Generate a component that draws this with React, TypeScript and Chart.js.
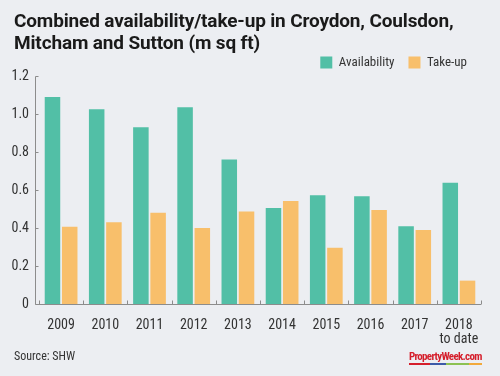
import React, { useEffect, useRef } from "react";
import { Chart, registerables } from "chart.js";

Chart.register(...registerables);

const categories: (string | string[])[] = ["2009", "2010", "2011", "2012", "2013", "2014", "2015", "2016", "2017", ["2018", "to date"]];
const availability = [1.09, 1.025, 0.93, 1.035, 0.76, 0.505, 0.572, 0.567, 0.409, 0.638];
const takeUp = [0.407, 0.43, 0.48, 0.4, 0.487, 0.542, 0.296, 0.495, 0.39, 0.123];
const yTicks = [0, 0.2, 0.4, 0.6, 0.8, 1.0, 1.2];

const TITLE_LINES = ["Combined availability/take-up in Croydon, Coulsdon,", "Mitcham and Sutton (m sq ft)"];
const SOURCE = "Source: SHW";
const LOGO = "PropertyWeek.com";

const BG = "#eceef2";
const TEAL = "#52bfa6";
const ORANGE = "#f8bf6b";
const AXIS = "#8c8c8c";
const TEXT = "#333333";
const FONT = "'Liberation Sans Narrow', 'Roboto Condensed', Roboto, sans-serif";
const TITLE_FONT = "Roboto, 'Liberation Sans', sans-serif";

const axisPlugin = {
  id: "axisDeco",
  afterDatasetsDraw(chart: any) {
    const { ctx, chartArea, scales } = chart;
    const x = scales.x;
    const y = scales.y;
    const ax = Math.round(chartArea.left - 4) + 0.5;
    const base = Math.round(y.getPixelForValue(0)) + 0.5;
    const top = Math.round(y.getPixelForValue(yTicks[yTicks.length - 1])) + 0.5;
    ctx.save();
    ctx.strokeStyle = AXIS;
    ctx.lineWidth = 1;
    ctx.beginPath();
    ctx.moveTo(ax, top);
    ctx.lineTo(ax, base);
    ctx.lineTo(chartArea.right, base);
    yTicks.forEach((v) => {
      const py = Math.round(y.getPixelForValue(v)) + 0.5;
      ctx.moveTo(ax, py);
      ctx.lineTo(ax + 3, py);
    });
    const n = categories.length;
    for (let i = 0; i <= n; i++) {
      const px = Math.round(x.left + (i * x.width) / n) + 0.5;
      ctx.moveTo(px, base);
      ctx.lineTo(px, base - 4);
    }
    ctx.stroke();
    ctx.restore();
  },
};

export default function App() {
  const ref = useRef<HTMLCanvasElement>(null);
  useEffect(() => {
    if (!ref.current) return;
    const chart = new Chart(ref.current, {
      type: "bar",
      data: {
        labels: categories as any,
        datasets: [
          { label: "Availability", data: availability, backgroundColor: TEAL, categoryPercentage: 0.78, barPercentage: 0.9 },
          { label: "Take-up", data: takeUp, backgroundColor: ORANGE, categoryPercentage: 0.78, barPercentage: 0.9 },
        ],
      },
      options: {
        animation: false,
        responsive: false,
        layout: { padding: { top: 42, right: 19, bottom: 0, left: 0 } },
        plugins: {
          legend: {
            position: "top",
            align: "end",
            maxHeight: 34,
            labels: {
              boxWidth: 12,
              boxHeight: 12,
              padding: 14,
              color: TEXT,
              font: { family: FONT, size: 13 },
            },
          },
          title: { display: false },
          tooltip: { enabled: false },
        },
        scales: {
          x: {
            grid: { display: false, drawTicks: false },
            border: { display: false },
            ticks: { color: TEXT, font: { family: FONT, size: 14, lineHeight: 1.0 }, padding: 14, maxRotation: 0 },
            afterFit: (s: any) => { s.height = 72; },
          },
          y: {
            min: 0,
            max: 1.2,
            grid: { display: false, drawTicks: false },
            border: { display: false },
            afterBuildTicks: (s: any) => { s.ticks = yTicks.map((v) => ({ value: v })); },
            ticks: {
              color: TEXT,
              font: { family: FONT, size: 14 },
              padding: 10,
              callback: (v: any) => (Number(v) === 0 ? "0" : Number(v).toFixed(1)),
            },
            afterFit: (s: any) => { s.width = 39; },
          },
        },
      },
      plugins: [axisPlugin],
    });
    return () => chart.destroy();
  }, []);

  return (
    <div style={{ position: "fixed", left: 0, top: 0, width: 500, height: 376, background: BG, overflow: "hidden" }}>
      <canvas ref={ref} width={500} height={376} style={{ position: "absolute", left: 0, top: 0 }} />
      <div
        style={{
          position: "absolute",
          left: 14,
          top: 10,
          fontFamily: TITLE_FONT,
          fontWeight: 700,
          fontSize: 19,
          lineHeight: "22px",
          color: "#1a1a1a",
          whiteSpace: "nowrap",
          letterSpacing: -0.15,
        }}
      >
        {TITLE_LINES[0]}
        <br />
        {TITLE_LINES[1]}
      </div>
      <div style={{ position: "absolute", left: 14, top: 349, fontFamily: FONT, fontSize: 12, color: TEXT }}>{SOURCE}</div>
      <div style={{ position: "absolute", left: 409, top: 351, width: 73 }}>
        <div style={{ fontFamily: FONT, fontWeight: 700, fontSize: 11, lineHeight: "12px", color: "#d51e2b", letterSpacing: -0.7, whiteSpace: "nowrap" }}>{LOGO}</div>
        <div style={{ display: "flex", height: 2 }}>
          <div style={{ flex: 21, background: "#d51e2b" }} />
          <div style={{ flex: 15, background: "#3d5aa8" }} />
          <div style={{ flex: 23, background: "#8cc152" }} />
          <div style={{ flex: 13, background: "#f2a93b" }} />
        </div>
      </div>
    </div>
  );
}
